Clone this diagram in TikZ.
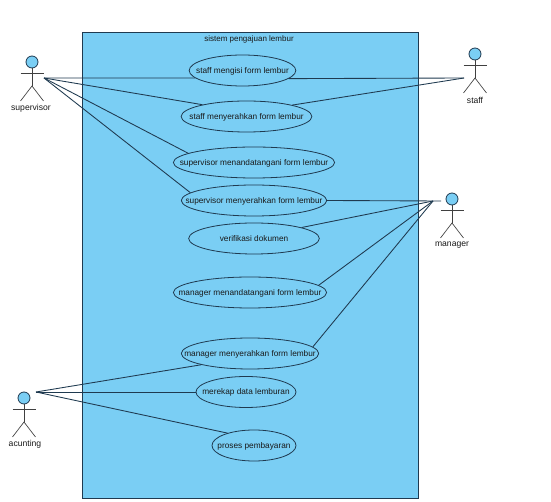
\documentclass[tikz,border=0pt]{standalone}
\usepackage{fontspec}
\setmainfont{Liberation Sans}
\usepackage{xcolor}
\usetikzlibrary{positioning, shapes.geometric, calc}

\definecolor{ucfill}{HTML}{7ACEF4}
\definecolor{ucline}{HTML}{1F3A50}
\newcommand{\uctext}[1]{\makebox[0pt]{\raisebox{-2.2pt}[0pt][0pt]{#1}}}
\tikzset{
  usecase/.style={ellipse, draw=ucline, fill=ucfill, line width=0.6pt, inner sep=0pt, minimum height=23.25pt, font=\fontsize{6.2}{8}\selectfont, text=black!90},
  actorlabel/.style={font=\fontsize{6.45}{8}\selectfont, text=black!90, inner sep=0pt},
  actorhead/.style={circle, draw=ucline, fill=ucfill, line width=0.6pt, inner sep=0pt, minimum size=9pt},
  link/.style={draw=ucline, line width=0.65pt},
  stick/.style={draw=black!75, line width=0.5pt}
}

\begin{document}
\begin{tikzpicture}[x=0.75pt, y=-0.75pt]
  \useasboundingbox (0,0) rectangle (551,502);

  \node[draw=ucline, fill=ucfill, line width=0.7pt, minimum width=252pt, minimum height=349.5pt, inner sep=0pt] (sistem) at (250,265) {};
  \node[actorlabel, font=\fontsize{6}{8}\selectfont] (judul) at (249,39.5) {sistem pengajuan lembur};

  % use cases
  \node[usecase, minimum width=80pt] (isi) at (242.5,70.5) {\uctext{staff mengisi form lembur}};
  \node[usecase, minimum width=98pt] (serahstaff) at (246.5,116.5) {\uctext{staff menyerahkan form lembur}};
  \node[usecase, minimum width=121pt] (tandasup) at (254,162.5) {\uctext{supervisor menandatangani form lembur}};
  \node[usecase, minimum width=109pt] (serahsup) at (254,200.5) {\uctext{supervisor menyerahkan form lembur}};
  \node[usecase, minimum width=98pt] (verifikasi) at (254,238.5) {\uctext{verifikasi dokumen}};
  \node[usecase, minimum width=115pt] (tandaman) at (250,292.5) {\uctext{manager menandatangani form lembur}};
  \node[usecase, minimum width=103pt] (serahman) at (250,353.5) {\uctext{manager menyerahkan form lembur}};
  \node[usecase, minimum width=75pt] (rekap) at (246,392) {\uctext{merekap data lemburan}};
  \node[usecase, minimum width=63pt] (bayar) at (254,445.5) {\uctext{proses pembayaran}};

  % actors
  \foreach \name/\x/\y/\lx/\ly/\txt in {supervisor/32/62/31/108/supervisor, staff/475/54/475/100.5/staff, manager/452/199/452/245.5/manager, acunting/24/398/25/444.5/acunting} {
    \node[actorhead] (\name) at (\x,\y) {};
    \coordinate (\name-hip) at (\x,\y+24);
    \coordinate (\name-neck) at (\x,\y+11.5);
    \draw[stick] (\name) -- (\name-hip);
    \draw[stick] ($(\name-neck)+(-11.5,0)$) -- ($(\name-neck)+(11.5,0)$);
    \draw[stick] ($(\name-hip)+(-11.5,15)$) -- (\name-hip) -- ($(\name-hip)+(11.5,15)$);
    \node[actorlabel] (\name-label) at (\lx,\ly) {\txt};
  }

  \coordinate (supervisor-end) at (44,78);
  \coordinate (staff-end) at (464,78);
  \coordinate (manager-end) at (441,201);
  \coordinate (manager-fan) at (433,201);
  \coordinate (acunting-end) at (36,392);

  \draw[link] (supervisor-end) -- (isi.189.2);
  \draw[link] (supervisor-end) -- (serahstaff.165.5);
  \draw[link] (supervisor-end) -- (tandasup.172);
  \draw[link] (supervisor-end) -- (serahsup.173);
  \draw[link] (isi.350.8) -- (staff-end);
  \draw[link] (serahstaff.14.8) -- (staff-end);
  \draw[link] (serahsup.0) -- (manager-end);
  \draw[link] (verifikasi.13.4) -- (manager-fan);
  \draw[link] (tandaman.6.8) -- (manager-fan);
  \draw[link] (serahman.6) -- (manager-fan);
  \draw[link] (acunting-end) -- (serahman.193.7);
  \draw[link] (acunting-end) -- (rekap.west);
  \draw[link] (acunting-end) -- (bayar.155);
\end{tikzpicture}
\end{document}
